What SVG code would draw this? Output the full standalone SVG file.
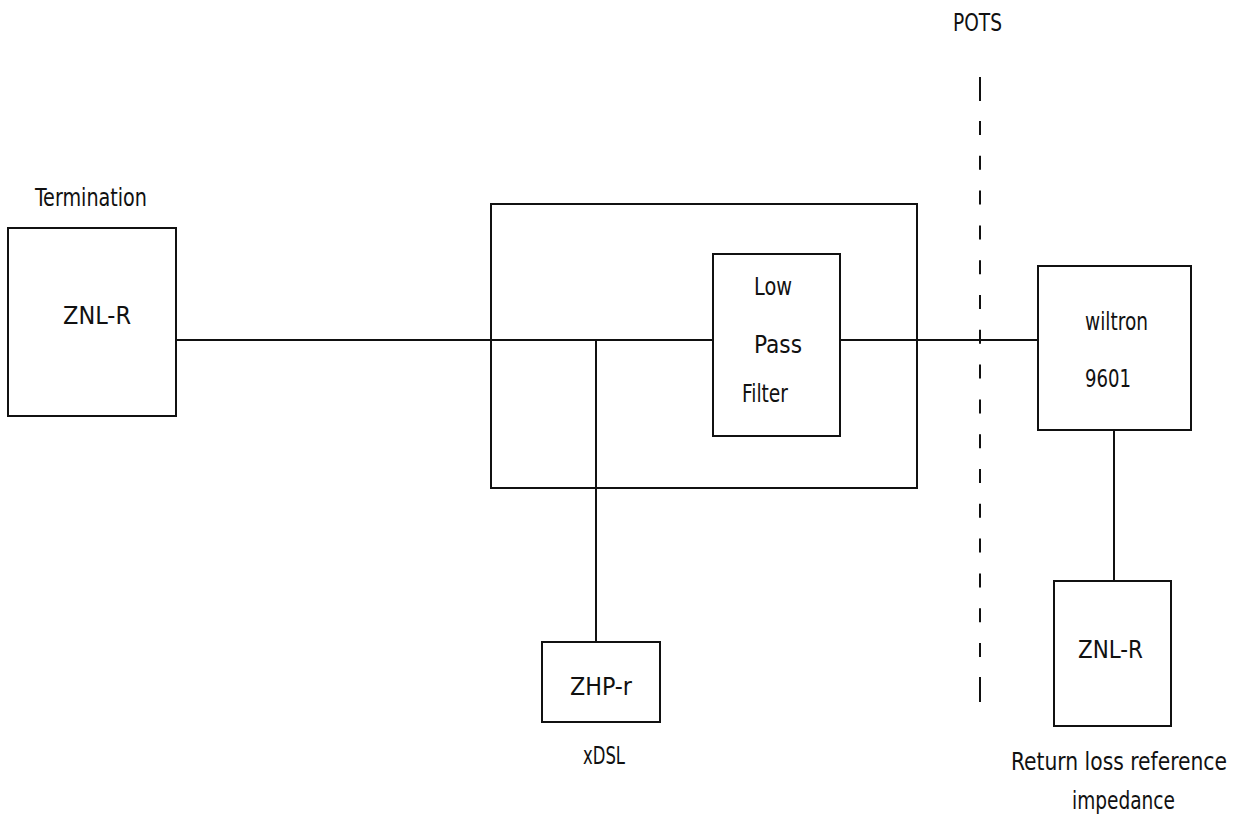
<svg xmlns="http://www.w3.org/2000/svg" width="1241" height="821" viewBox="0 0 1241 821">
<style>
.box{fill:none;stroke:#111;stroke-width:2}
.ln{fill:none;stroke:#111;stroke-width:2}
.dash{fill:none;stroke:#111;stroke-width:2}
text{font-family:"Liberation Sans Narrow","DejaVu Sans Condensed","Liberation Sans",sans-serif;font-size:25px;fill:#111}
</style>
<rect width="1241" height="821" fill="#fff"/>
<g id="connectors">
<path class="ln" d="M176 340H713M840 340H1038M596 340V642M1114 430V581"/>
</g>
<g id="pots-boundary">
<path class="dash" d="M980 77V101M980 121V135M980 155.8V169.8M980 190.6V204.6M980 225.4V239.4M980 260.2V274.2M980 295V309M980 329.8V343.8M980 364.6V378.6M980 399.4V413.4M980 434.2V448.2M980 469V483M980 503.8V517.8M980 538.6V552.6M980 573.4V587.4M980 608.2V622.2M980 643V657M980 677V702"/>
<text x="953" y="31" textLength="49" lengthAdjust="spacingAndGlyphs">POTS</text>
</g>
<g id="termination">
<rect class="box" x="8" y="228" width="168" height="188"/>
<text x="35" y="206" textLength="112" lengthAdjust="spacingAndGlyphs">Termination</text>
<text x="63" y="324" textLength="68" lengthAdjust="spacingAndGlyphs">ZNL-R</text>
</g>
<g id="splitter">
<rect class="box" x="491" y="204" width="426" height="284"/>
</g>
<g id="low-pass-filter">
<rect class="box" x="713" y="254" width="127" height="182"/>
<text x="754" y="295" textLength="38" lengthAdjust="spacingAndGlyphs">Low</text>
<text x="754" y="353" textLength="48" lengthAdjust="spacingAndGlyphs">Pass</text>
<text x="742" y="402" textLength="46" lengthAdjust="spacingAndGlyphs">Filter</text>
</g>
<g id="zhp">
<rect class="box" x="542" y="642" width="118" height="80"/>
<text x="570" y="695" textLength="62" lengthAdjust="spacingAndGlyphs">ZHP-r</text>
<text x="583" y="764" textLength="42" lengthAdjust="spacingAndGlyphs">xDSL</text>
</g>
<g id="wiltron">
<rect class="box" x="1038" y="266" width="153" height="164"/>
<text x="1085" y="330" textLength="63" lengthAdjust="spacingAndGlyphs">wiltron</text>
<text x="1085" y="387" textLength="46" lengthAdjust="spacingAndGlyphs">9601</text>
</g>
<g id="reference-impedance">
<rect class="box" x="1054" y="581" width="117" height="145"/>
<text x="1078" y="658" textLength="65" lengthAdjust="spacingAndGlyphs">ZNL-R</text>
<text x="1011" y="770" textLength="216" lengthAdjust="spacingAndGlyphs">Return loss reference</text>
<text x="1072" y="809" textLength="103" lengthAdjust="spacingAndGlyphs">impedance</text>
</g>
</svg>
